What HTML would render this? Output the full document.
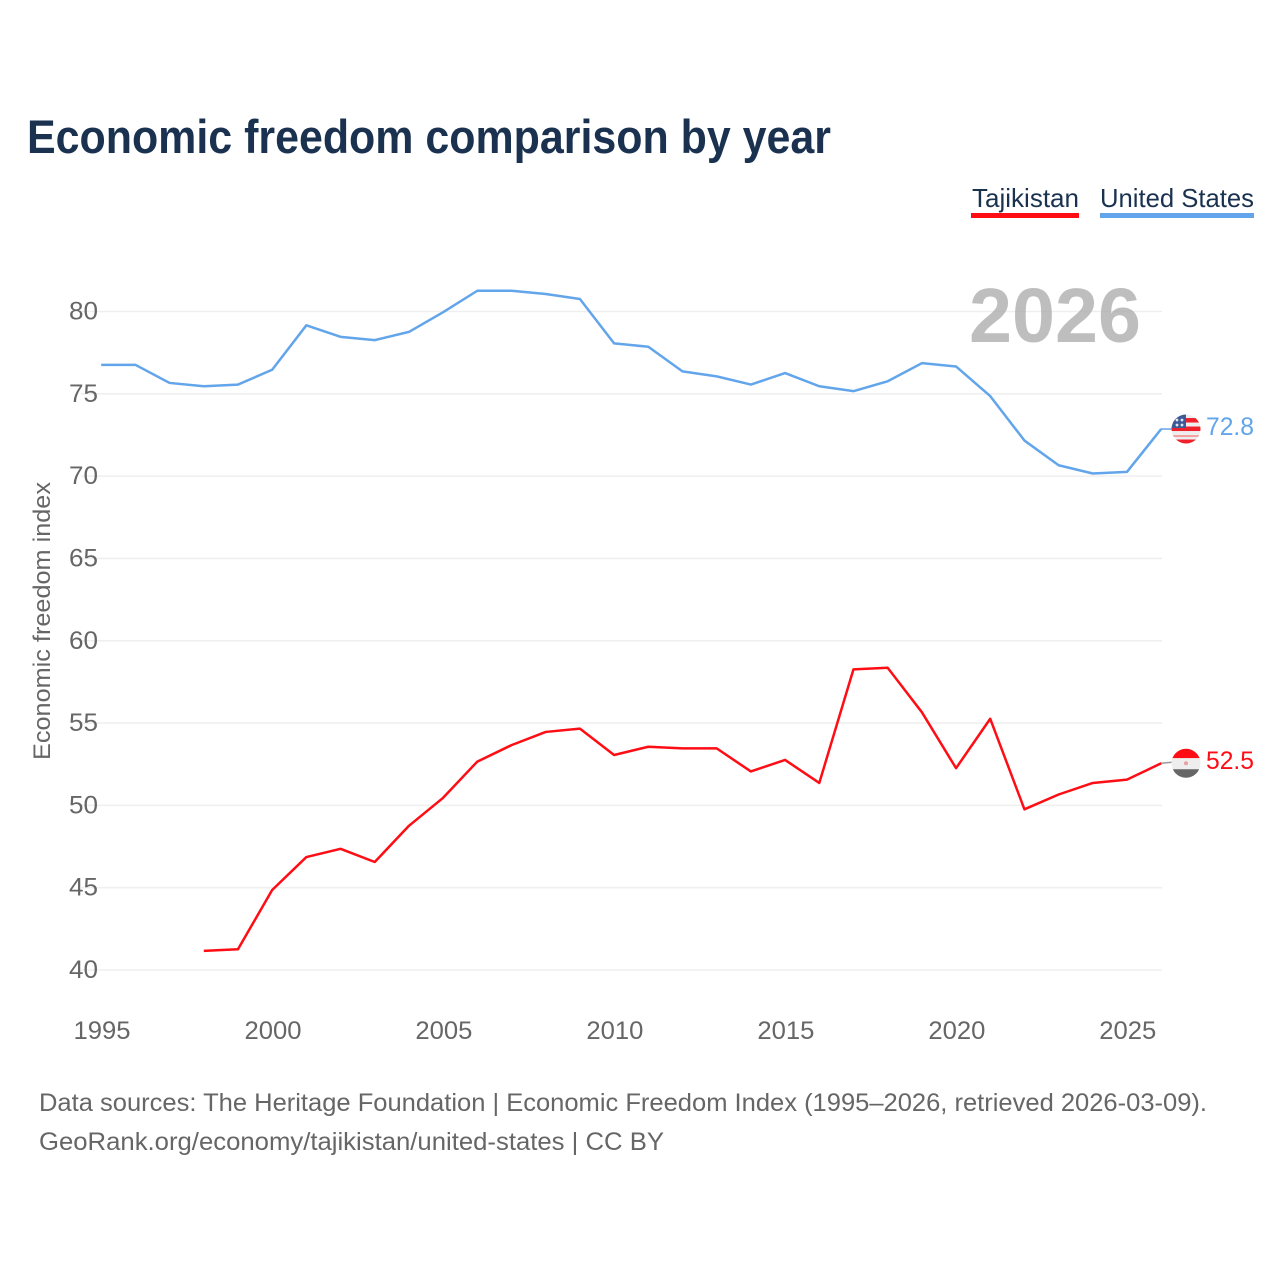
<!DOCTYPE html>
<html lang="en">
<head>
<meta charset="utf-8">
<title>Economic freedom comparison by year</title>
<style>
html,body{margin:0;padding:0;background:#fff;}
svg{display:block;font-family:"Liberation Sans",sans-serif;}
</style>
</head>
<body>
<svg id="chart" xmlns="http://www.w3.org/2000/svg" width="1280" height="1280" viewBox="0 0 1280 1280">
  <defs>
    <clipPath id="flag-clip-us"><circle cx="0" cy="0" r="14.5"/></clipPath>
    <clipPath id="flag-clip-tj"><circle cx="0" cy="0" r="14.5"/></clipPath>
  </defs>
  <rect x="0" y="0" width="1280" height="1280" fill="#ffffff"/>
  <text x="27" y="153" font-size="47" font-weight="700" fill="#1a3250" textLength="804" lengthAdjust="spacingAndGlyphs">Economic freedom comparison by year</text>

  <g>
    <g>
      <text x="972" y="207" font-size="26" fill="#1a3250" textLength="107" lengthAdjust="spacingAndGlyphs">Tajikistan</text>
      <rect x="971" y="213" width="108" height="5" fill="#ff0d14"/>
    </g>
    <g>
      <text x="1100" y="207" font-size="26" fill="#1a3250" textLength="154" lengthAdjust="spacingAndGlyphs">United States</text>
      <rect x="1100" y="213" width="154" height="5" fill="#62a5ea"/>
    </g>
  </g>

  <g id="grid"></g>
  <text x="969" y="342" font-size="77" font-weight="700" fill="#a8a8a8" fill-opacity="0.75" textLength="172" lengthAdjust="spacingAndGlyphs">2026</text>
  <g id="y-axis"></g>
  <g id="x-axis"></g>
  <text transform="translate(50 621) rotate(-90)" text-anchor="middle" font-size="24" fill="#666666" textLength="278" lengthAdjust="spacingAndGlyphs">Economic freedom index</text>

  <g id="series"></g>

  <g id="flag-us">
    <g clip-path="url(#flag-clip-us)">
      <rect x="-15" y="-15" width="30" height="30" fill="#eeeeee"/>
      <rect x="-15" y="-11" width="30" height="4.5" fill="#f0202a"/>
      <rect x="-15" y="-2.5" width="30" height="4.5" fill="#f0202a"/>
      <rect x="-15" y="6" width="30" height="2" fill="#f4a0a0"/>
      <rect x="-15" y="10.5" width="30" height="5" fill="#f0202a"/>
      <rect x="-15" y="-15" width="15" height="14" fill="#3d5a94"/>
      <circle cx="-9" cy="-9" r="1.4" fill="#dfe6f2"/>
      <circle cx="-4" cy="-9" r="1.4" fill="#dfe6f2"/>
      <circle cx="-9" cy="-4" r="1.4" fill="#dfe6f2"/>
      <circle cx="-4" cy="-4" r="1.4" fill="#dfe6f2"/>
    </g>
  </g>
  <g id="flag-tj">
    <g clip-path="url(#flag-clip-tj)">
      <rect x="-15" y="-15" width="30" height="10" fill="#ff0d14"/>
      <rect x="-15" y="-5" width="30" height="11" fill="#eeeeee"/>
      <rect x="-15" y="6" width="30" height="10" fill="#666666"/>
      <circle cx="0" cy="0" r="2" fill="#e8a0a0"/>
    </g>
  </g>

  <text x="39" y="1111" font-size="25" fill="#666666" textLength="1168" lengthAdjust="spacingAndGlyphs">Data sources: The Heritage Foundation | Economic Freedom Index (1995–2026, retrieved 2026-03-09).</text>
  <text x="39" y="1150" font-size="25" fill="#666666" textLength="625" lengthAdjust="spacingAndGlyphs">GeoRank.org/economy/tajikistan/united-states | CC BY</text>
</svg>
<script>
const yTickValues = [40, 45, 50, 55, 60, 65, 70, 75, 80];
const xTickValues = [1995, 2000, 2005, 2010, 2015, 2020, 2025];
const usYears = [1995,1996,1997,1998,1999,2000,2001,2002,2003,2004,2005,2006,2007,2008,2009,2010,2011,2012,2013,2014,2015,2016,2017,2018,2019,2020,2021,2022,2023,2024,2025,2026];
const usValues = [76.7,76.7,75.6,75.4,75.5,76.4,79.1,78.4,78.2,78.7,79.9,81.2,81.2,81.0,80.7,78.0,77.8,76.3,76.0,75.5,76.2,75.4,75.1,75.7,76.8,76.6,74.8,72.1,70.6,70.1,70.2,72.8];
const tjYears = [1998,1999,2000,2001,2002,2003,2004,2005,2006,2007,2008,2009,2010,2011,2012,2013,2014,2015,2016,2017,2018,2019,2020,2021,2022,2023,2024,2025,2026];
const tjValues = [41.1,41.2,44.8,46.8,47.3,46.5,48.7,50.4,52.6,53.6,54.4,54.6,53.0,53.5,53.4,53.4,52.0,52.7,51.3,58.2,58.3,55.6,52.2,55.2,49.7,50.6,51.3,51.5,52.5];

const NS = 'http://www.w3.org/2000/svg';
function xScale(year) { return 102 + (year - 1995) * (1162 - 102) / 31; }
function yScale(value) { return 970 - (value - 40) * (970 - 311.5) / 40; }
function make(tag, attrs, parent, content) {
  const el = document.createElementNS(NS, tag);
  for (const k in attrs) el.setAttribute(k, attrs[k]);
  if (content !== undefined) el.textContent = content;
  parent.appendChild(el);
  return el;
}
const gridGroup = document.getElementById('grid');
const yAxisGroup = document.getElementById('y-axis');
const xAxisGroup = document.getElementById('x-axis');
const seriesGroup = document.getElementById('series');

yTickValues.forEach(function (v) {
  const line = make('line', {x1: 81, x2: 1162, y1: yScale(v), y2: yScale(v), stroke: '#efefef', 'stroke-width': 1.6}, gridGroup);
  
  
  const label = make('text', {x: 98, y: yScale(v) + 8, 'text-anchor': 'end', 'font-size': 25, fill: '#666666', textLength: 29, lengthAdjust: 'spacingAndGlyphs'}, yAxisGroup, String(v));
  
  
});
xTickValues.forEach(function (t) {
  const label = make('text', {x: xScale(t), y: 1039, 'text-anchor': 'middle', 'font-size': 25, fill: '#666666', textLength: 57, lengthAdjust: 'spacingAndGlyphs'}, xAxisGroup, String(t));
  
  
});

function pathFor(years, values) {
  return values.map(function (v, i) {
    return (i ? 'L' : 'M') + (xScale(years[i]) - 0.8).toFixed(2) + ' ' + (yScale(v) - 1).toFixed(2);
  }).join(' ');
}
const tjLine = make('path', {d: pathFor(tjYears, tjValues), fill: 'none', stroke: '#ff0d14', 'stroke-width': 2.5, 'stroke-linejoin': 'round'}, seriesGroup);


const usLine = make('path', {d: pathFor(usYears, usValues), fill: 'none', stroke: '#62a5ea', 'stroke-width': 2.5, 'stroke-linejoin': 'round'}, seriesGroup);



const usLast = usValues[usValues.length - 1];
const tjLast = tjValues[tjValues.length - 1];
const usConnector = make('line', {x1: 1161, x2: 1172, y1: yScale(usLast) - 1, y2: yScale(usLast) - 1, stroke: '#62a5ea', 'stroke-width': 1.5}, seriesGroup);


const tjConnector = make('line', {x1: 1161, x2: 1172, y1: yScale(tjLast) - 1, y2: yScale(tjLast) - 2, stroke: '#999999', 'stroke-width': 1.5}, seriesGroup);



document.getElementById('flag-us').setAttribute('transform', 'translate(1186 ' + (yScale(usLast) - 1) + ')');
document.getElementById('flag-tj').setAttribute('transform', 'translate(1186 ' + (yScale(tjLast) - 1) + ')');

const usValueLabel = make('text', {x: 1206, y: yScale(usLast) + 5, 'font-size': 25, fill: '#62a5ea', textLength: 48, lengthAdjust: 'spacingAndGlyphs'}, seriesGroup, usLast.toFixed(1));


const tjValueLabel = make('text', {x: 1206, y: yScale(tjLast) + 5, 'font-size': 25, fill: '#ff0d14', textLength: 48, lengthAdjust: 'spacingAndGlyphs'}, seriesGroup, tjLast.toFixed(1));


</script>
</body>
</html>
